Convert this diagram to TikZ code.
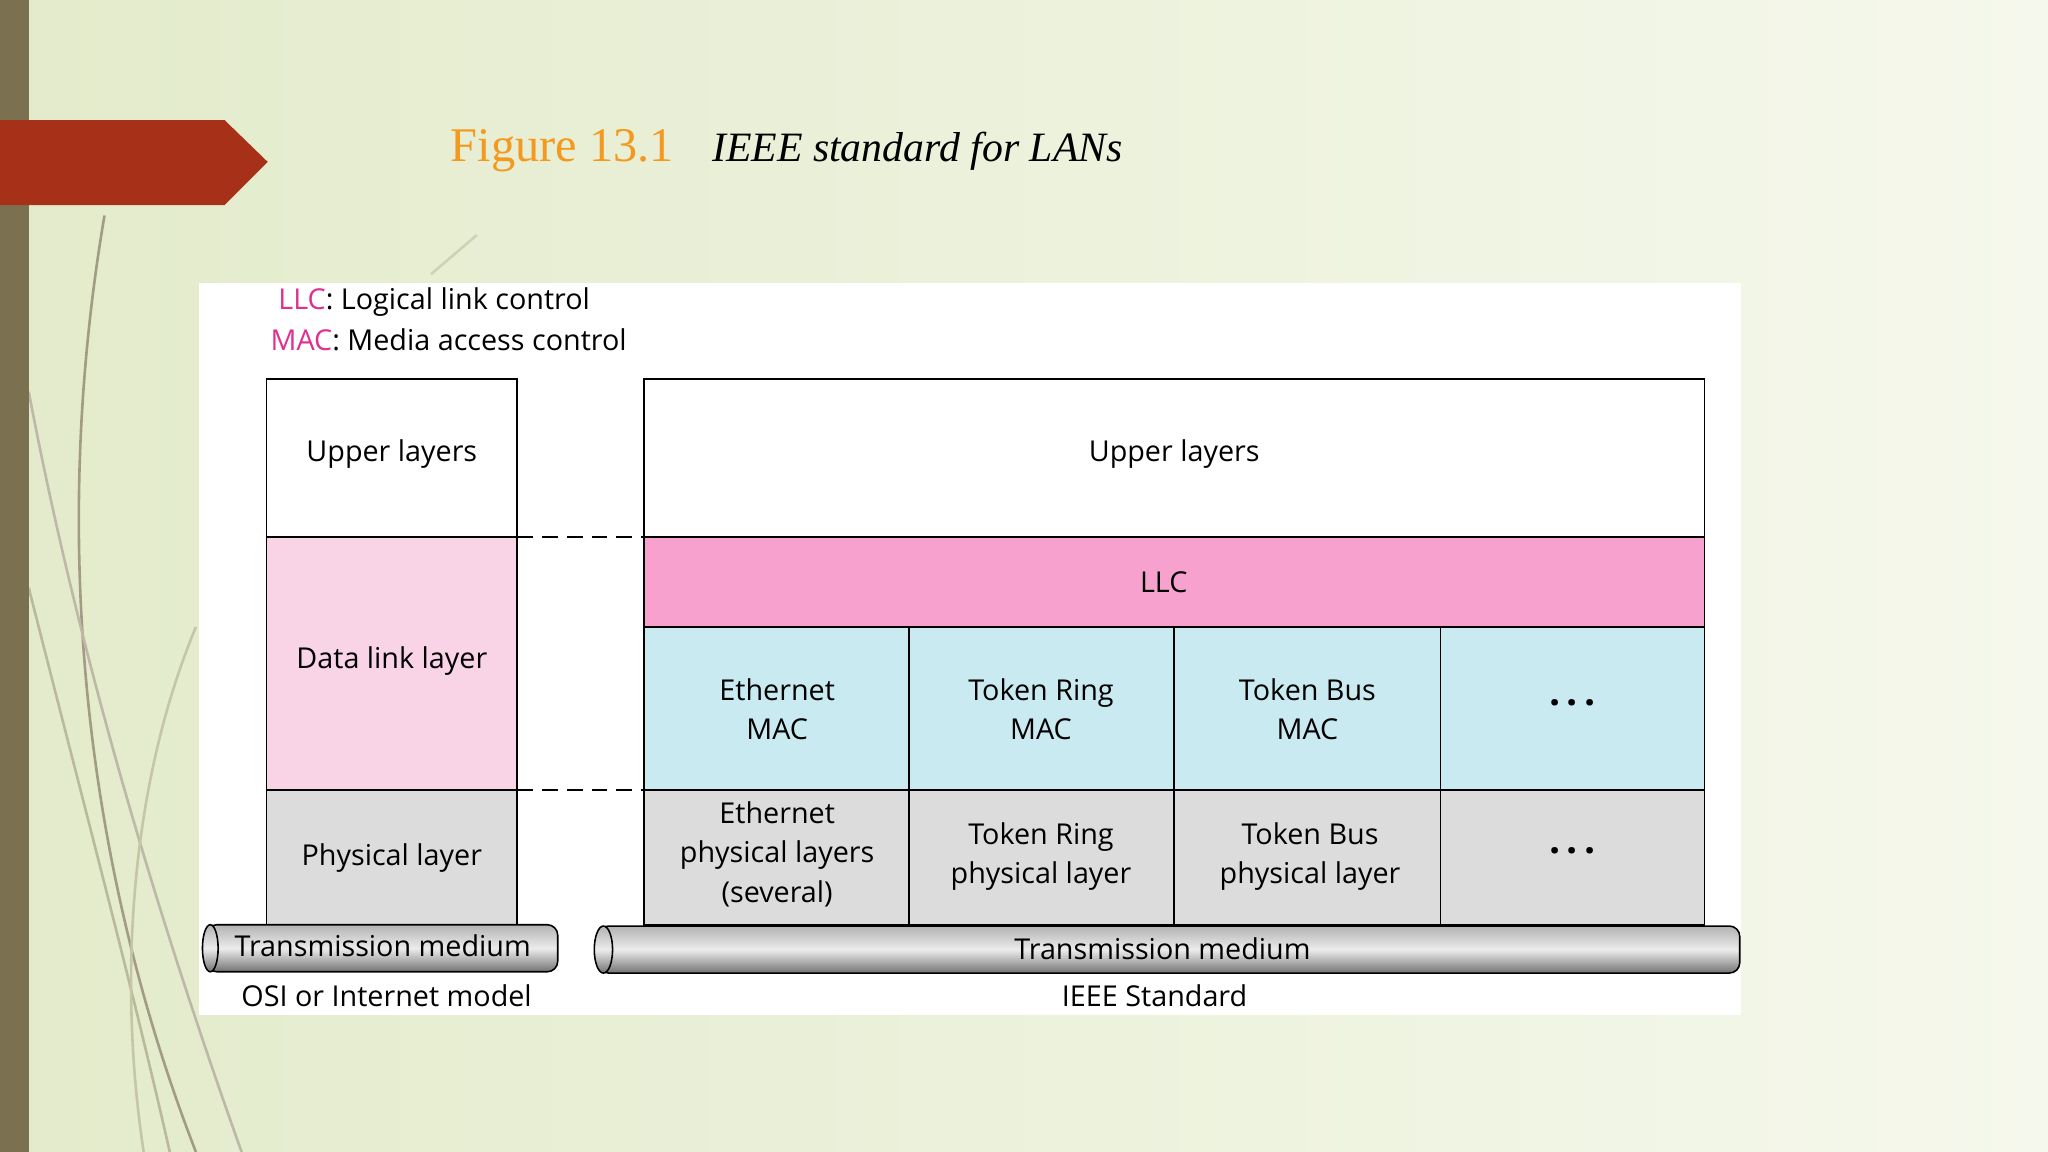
\documentclass[tikz,border=0pt]{standalone}
\usepackage{fontspec}
\setmainfont{Open Sans}
\newfontfamily\serif{Liberation Serif}
\usetikzlibrary{shadings}
\definecolor{bgA}{HTML}{E3EBCB}
\definecolor{bgB}{HTML}{F5F8EC}
\definecolor{strip}{HTML}{7B7150}
\definecolor{redarr}{HTML}{A63018}
\definecolor{orng}{HTML}{F39A1E}
\definecolor{mag}{HTML}{E0308F}
\definecolor{pinkL}{HTML}{F9D3E6}
\definecolor{pinkD}{HTML}{F7A1CF}
\definecolor{cyanL}{HTML}{C8EAF0}
\definecolor{greyL}{HTML}{DCDCDC}
\tikzset{
 box/.style={draw=black,line width=1.2pt},
 lbl/.style={font=\fontsize{22}{30}\selectfont,align=center,inner sep=0pt},
 dots/.style={lbl,font=\fontsize{30}{30}\selectfont\bfseries},
 cyl/.style={draw=black,line width=1.2pt,top color=gray!60,bottom color=gray!90!black,middle color=gray!15},
 grass/.style={draw=#1,line width=2pt,fill=none},
}
\begin{document}
\begin{tikzpicture}[x=1pt,y=-1pt]
\useasboundingbox (0,0) rectangle (1568,882);
\shade[left color=bgA,right color=bgB] (0,0) rectangle (1568,882);
\draw[grass=strip!70] (80,165) .. controls (40,400) and (60,650) .. (150,882);
\draw[grass=strip!50] (22,300) .. controls (60,500) and (120,700) .. (185,882);
\draw[grass=bgA!60!strip] (22,450) .. controls (60,600) and (100,750) .. (130,882);
\draw[grass=bgA!70!strip] (150,480) .. controls (100,600) and (90,750) .. (110,882);
\draw[grass=bgA!80!strip] (365,180) -- (330,210);
\fill[strip] (0,0) rectangle (22,882);
\fill[redarr] (0,92) -- (172,92) -- (205,124) -- (172,157) -- (0,157) -- cycle;
\node[anchor=base west,inner sep=0,text=orng,font=\serif\fontsize{37}{40}\selectfont] (t1) at (345,124) {Figure 13.1};
\node[anchor=base west,inner sep=0,font=\serif\itshape\fontsize{32}{36}\selectfont] (t2) at (545,124) {IEEE standard for LANs};
\fill[white] (152,217) rectangle (1333,777);
\node[anchor=west,inner sep=0,font=\fontsize{22}{26}\selectfont] (lg1) at (213,231) {\textcolor{mag}{LLC}: Logical link control};
\node[anchor=west,inner sep=0,font=\fontsize{22}{26}\selectfont] (lg2) at (207,260) {\textcolor{mag}{MAC}: Media access control};
\draw[box,fill=white] (204,290) rectangle (396,411);
\draw[box,fill=pinkL] (204,411) rectangle (396,605);
\draw[box,fill=greyL] (204,605) rectangle (396,708);
\node[lbl] (lu) at (300,348) {Upper layers};
\node[lbl] (ld) at (300,506) {Data link layer};
\node[lbl] (lp) at (300,657) {Physical layer};
\coordinate (d1a) at (396,411); \coordinate (d1b) at (493,411);
\coordinate (d2a) at (396,605); \coordinate (d2b) at (493,605);
\draw[line width=1.5pt,dash pattern=on 12pt off 7pt] (d1a) -- (d1b);
\draw[line width=1.5pt,dash pattern=on 12pt off 7pt] (d2a) -- (d2b);
\draw[box,fill=white] (493,290) rectangle (1305,411);
\draw[box,fill=pinkD] (493,411) rectangle (1305,480);
\foreach \a/\b in {493/696,696/899,899/1103,1103/1305}{
 \draw[box,fill=cyanL] (\a,480) rectangle (\b,605);
 \draw[box,fill=greyL] (\a,605) rectangle (\b,708);
}
\node[lbl] (ru) at (899,348) {Upper layers};
\node[lbl] (llc) at (891,446) {LLC};
\node[lbl] (m1) at (595,543) {Ethernet\\MAC};
\node[lbl] (m2) at (797,543) {Token Ring\\MAC};
\node[lbl] (m3) at (1001,543) {Token Bus\\MAC};
\node[dots] (m4) at (1204,538) {.\,.\,.};
\node[lbl] (p1) at (595,654) {Ethernet\\physical layers\\(several)};
\node[lbl] (p2) at (797,656) {Token Ring\\physical layer};
\node[lbl] (p3) at (1003,656) {Token Bus\\physical layer};
\node[dots] (p4) at (1204,651) {.\,.\,.};
\shade[cyl,rounded corners=8pt] (158,708) rectangle (427,744);
\shade[cyl] (161,726) ellipse (6 and 18);
\node[lbl] (tm1) at (293,724) {Transmission medium};
\shade[cyl,rounded corners=8pt] (458,709) rectangle (1332,745);
\shade[cyl] (462,727) ellipse (7 and 18);
\node[lbl] (tm2) at (890,726) {Transmission medium};
\node[lbl] (c1) at (296,762) {OSI or Internet model};
\node[lbl] (c2) at (884,762) {IEEE Standard};
\end{tikzpicture}
\end{document}
